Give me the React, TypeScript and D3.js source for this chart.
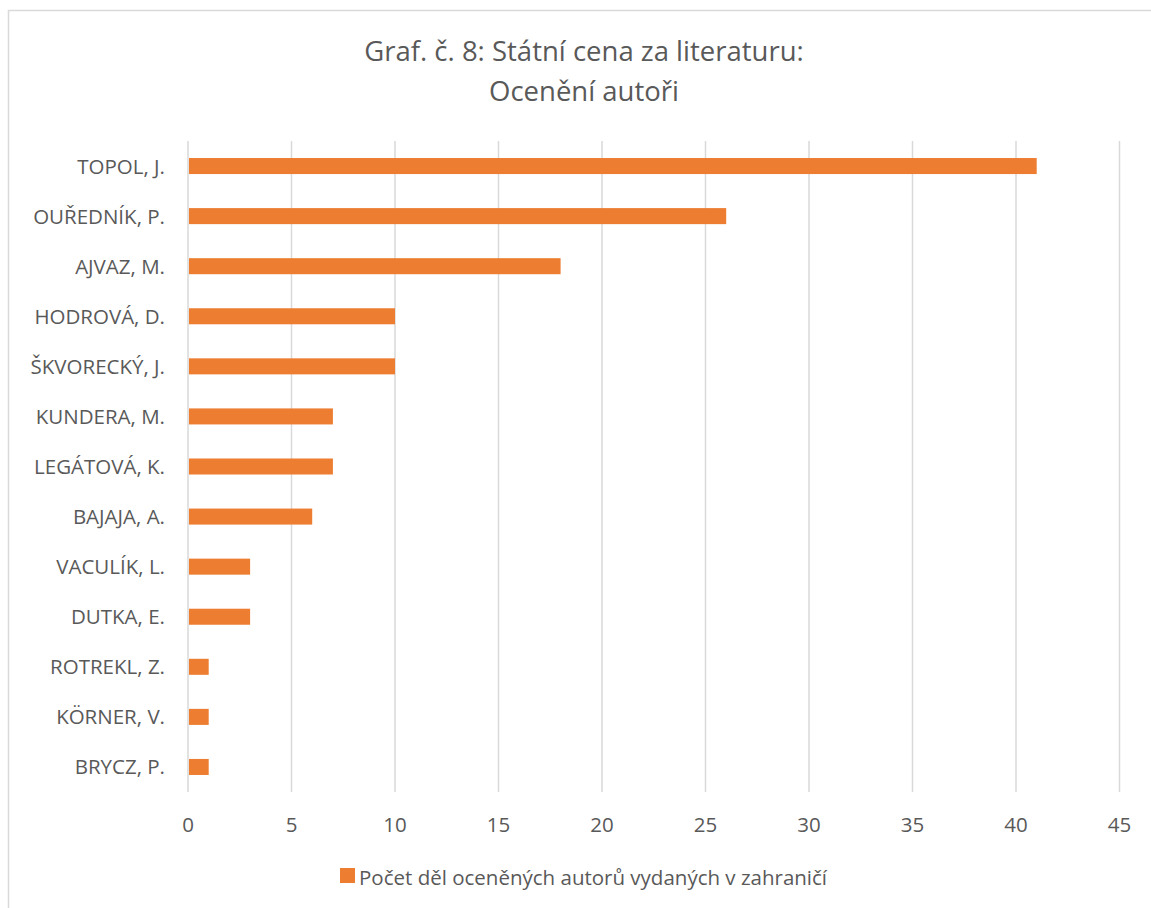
import React from "react";
import * as d3 from "d3";

const categories = [
  "TOPOL, J.",
  "OUŘEDNÍK, P.",
  "AJVAZ, M.",
  "HODROVÁ, D.",
  "ŠKVORECKÝ, J.",
  "KUNDERA, M.",
  "LEGÁTOVÁ, K.",
  "BAJAJA, A.",
  "VACULÍK, L.",
  "DUTKA, E.",
  "ROTREKL, Z.",
  "KÖRNER, V.",
  "BRYCZ, P.",
];
const values = [41, 26, 18, 10, 10, 7, 7, 6, 3, 3, 1, 1, 1];
const xTicks = [0, 5, 10, 15, 20, 25, 30, 35, 40, 45];
const titleLines = ["Graf. č. 8: Státní cena za literaturu:", "Ocenění autoři"];
const legendLabel = "Počet děl oceněných autorů vydaných v zahraničí";

const W = 1151;
const H = 908;
const FONT = "'Open Sans', sans-serif";
const TXT = "#595959";
const BAR = "#ED7D31";
const GRID = "#D9D9D9";

export default function App() {
  const left = 188;
  const right = 1119.5;
  const top = 141;
  const bottom = 792;
  const x = d3.scaleLinear().domain([0, 45]).range([left, right]);
  const y = d3.scaleBand().domain(categories).range([top, bottom]).paddingInner(0.68).paddingOuter(0.34);

  return (
    <svg
      width={W}
      height={H}
      style={{ position: "absolute", left: 0, top: 0, background: "#fff" }}
      fontFamily={FONT}
    >
      <rect x={8.5} y={10.5} width={W + 20} height={H + 20} fill="#fff" stroke={GRID} strokeWidth={1.5} />
      {titleLines.map((t, i) => (
        <text key={i} x={584} y={61 + i * 40} textAnchor="middle" fontSize={27.5} fill={TXT}>
          {t}
        </text>
      ))}
      {xTicks.map((t) => (
        <g key={t}>
          <line x1={x(t)} x2={x(t)} y1={top} y2={bottom} stroke={GRID} strokeWidth={1.5} />
          <text x={x(t)} y={832} textAnchor="middle" fontSize={20.5} fill={TXT}>
            {t}
          </text>
        </g>
      ))}
      {categories.map((c, i) => (
        <g key={c}>
          <rect
            x={x(0) + 1}
            y={y(c)!}
            width={x(values[i]) - x(0) - 1}
            height={y.bandwidth()}
            fill={BAR}
          />
          <text
            x={165}
            y={y(c)! + y.bandwidth() / 2 + 7.5}
            textAnchor="end"
            fontSize={20.5}
            fill={TXT}
          >
            {c}
          </text>
        </g>
      ))}
      <rect x={340} y={868} width={15} height={15} fill={BAR} />
      <text x={359} y={885} fontSize={20.5} fill={TXT}>
        {legendLabel}
      </text>
    </svg>
  );
}
